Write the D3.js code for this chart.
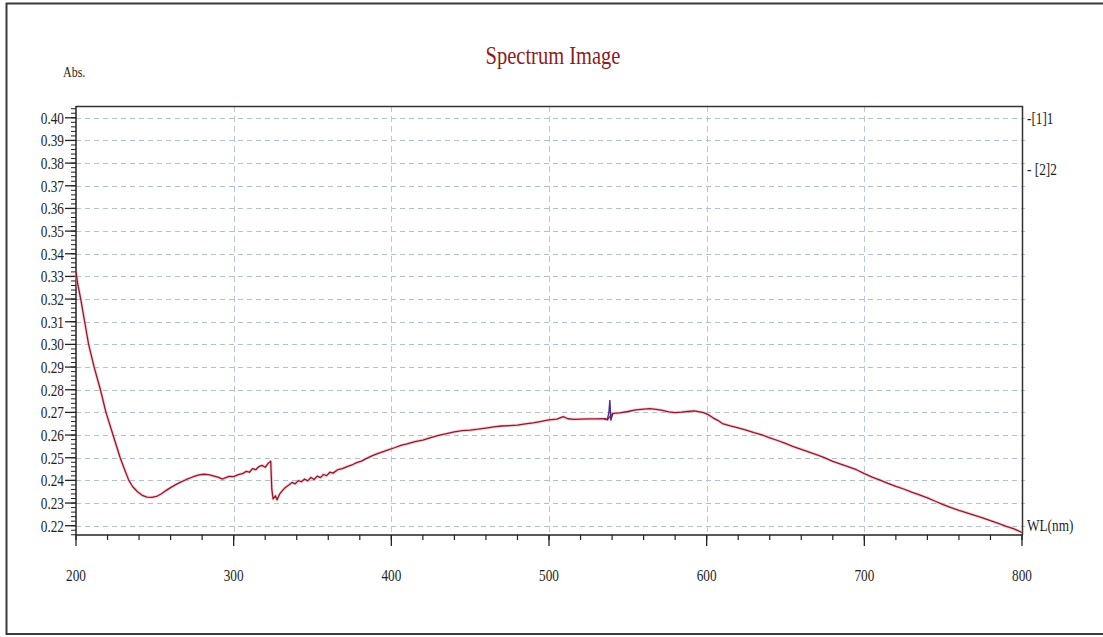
<!DOCTYPE html>
<html>
<head>
<meta charset="utf-8">
<script src="https://cdn.jsdelivr.net/npm/d3@7"></script>
<style>
  html, body { margin: 0; padding: 0; background: #fff; }
  svg { display: block; }
  text { font-family: "Liberation Serif", "Times New Roman", serif; fill: #1e1e1e; }
</style>
</head>
<body>
<svg id="chart" width="1103" height="637"></svg>
<script>
// Absorbance spectrum, series [1]1
const wavelength = [
  200, 201, 203, 205.5, 208, 211.5, 215.5, 219, 223.5, 228, 231, 233.5, 236, 239, 242, 245, 248, 251, 254, 257,
  260, 263, 266, 270, 274, 278, 281, 284, 287, 290, 293, 295, 297, 300, 303, 306, 308, 310, 312, 314,
  316, 318, 320, 322, 323.5, 324.2, 325, 326.5, 327.5, 329, 331, 333, 335, 337, 339, 341, 343, 345, 347, 349,
  351, 353, 355, 357, 359, 361, 363, 366, 369, 372, 375, 378, 381, 384, 387, 390, 394, 398, 402, 406,
  410, 415, 420, 425, 430, 435, 440, 445, 450, 455, 460, 465, 470, 475, 480, 485, 490, 495, 500, 505,
  509, 512, 516, 520, 525, 530, 535, 537, 540.5, 545, 550, 555, 560, 564, 568, 572, 576, 580, 584, 588,
  592, 595, 598, 601, 604, 607, 610, 615, 620, 625, 630, 635, 640, 645, 650, 655, 660, 665, 670, 675,
  680, 685, 690, 695, 700, 705, 710, 715, 720, 725, 730, 735, 740, 745, 750, 755, 760, 765, 770, 775,
  780, 785, 790, 795, 800
];
const absorbance = [
  0.3320, 0.3270, 0.3200, 0.3100, 0.3000, 0.2900, 0.2800, 0.2700, 0.2600, 0.2500, 0.2445, 0.2400, 0.2372, 0.2350, 0.2334, 0.2326, 0.2325, 0.2329, 0.2340, 0.2355,
  0.2368, 0.2380, 0.2391, 0.2404, 0.2415, 0.2424, 0.2427, 0.2425, 0.2420, 0.2414, 0.2406, 0.2412, 0.2418, 0.2417, 0.2425, 0.2431, 0.2440, 0.2436, 0.2452, 0.2447,
  0.2461, 0.2466, 0.2458, 0.2476, 0.2485, 0.2360, 0.2318, 0.2332, 0.2314, 0.2338, 0.2356, 0.2370, 0.2380, 0.2391, 0.2385, 0.2399, 0.2394, 0.2406, 0.2398, 0.2413,
  0.2404, 0.2419, 0.2412, 0.2426, 0.2421, 0.2436, 0.2432, 0.2447, 0.2452, 0.2461, 0.2468, 0.2478, 0.2485, 0.2496, 0.2506, 0.2515, 0.2525, 0.2535, 0.2544, 0.2554,
  0.2561, 0.2571, 0.2578, 0.2589, 0.2599, 0.2606, 0.2614, 0.2620, 0.2622, 0.2626, 0.2631, 0.2636, 0.2640, 0.2642, 0.2644, 0.2649, 0.2654, 0.2660, 0.2667, 0.2670,
  0.2681, 0.2672, 0.2669, 0.2670, 0.2671, 0.2671, 0.2672, 0.2668, 0.2696, 0.2698, 0.2704, 0.2711, 0.2714, 0.2717, 0.2713, 0.2709, 0.2702, 0.2699, 0.2701, 0.2704,
  0.2707, 0.2703, 0.2699, 0.2690, 0.2676, 0.2665, 0.2651, 0.2641, 0.2632, 0.2622, 0.2611, 0.2601, 0.2588, 0.2576, 0.2563, 0.2549, 0.2537, 0.2525, 0.2513, 0.2499,
  0.2484, 0.2472, 0.2460, 0.2447, 0.2430, 0.2414, 0.2401, 0.2387, 0.2374, 0.2362, 0.2348, 0.2336, 0.2323, 0.2308, 0.2293, 0.2280, 0.2268, 0.2257, 0.2246, 0.2235,
  0.2222, 0.2210, 0.2197, 0.2186, 0.2170
];

// Series [2]2 only departs from [1]1 around the 538 nm glitch
const wavelength2 = [535, 537, 538, 538.6, 539.2, 540.5];
const absorbance2 = [0.2672, 0.2668, 0.2700, 0.2755, 0.2664, 0.2696];

const xTicks = [200, 300, 400, 500, 600, 700, 800];
const xTickLabels = ["200", "300", "400", "500", "600", "700", "800"];
const yTicks = d3.range(22, 41).map(v => v / 100);
const yTickLabels = yTicks.map(v => v.toFixed(2));
const legendLabels = ["-[1]1", "- [2]2"];

const svg = d3.select("#chart");
const plot = { left: 76, right: 1022, top: 106, bottom: 535 };

const x = d3.scaleLinear().domain([200, 800]).range([plot.left, plot.right]);
const y = d3.scaleLinear().domain([0.2159, 0.4052]).range([plot.bottom, plot.top]);

const SX = 0.78; // narrow serif look
function label(g, tx, ty, str, opts = {}) {
  const t = g.append("text")
    .attr("transform", `translate(${tx},${ty}) scale(${opts.sx || SX},1)`)
    .attr("text-anchor", opts.anchor || "start")
    .attr("dy", opts.dy || "0.35em")
    .style("font-size", (opts.size || 17) + "px")
    .text(str);
  if (opts.fill) t.style("fill", opts.fill);
  return t;
}

// outer frame
svg.append("rect")
  .attr("x", 6.5).attr("y", 3.5).attr("width", 1100).attr("height", 630.5)
  .attr("fill", "none").attr("stroke", "#3a3a3a").attr("stroke-width", 2);

// title and axis captions
label(svg, 553, 55, "Spectrum Image", { anchor: "middle", size: 25, sx: 0.82, fill: "#8b1c24" });
label(svg, 63, 72, "Abs.", { size: 15, sx: 0.8 });
label(svg, 1027, 525, "WL(nm)", { size: 17 });

// grid
const grid = svg.append("g");
grid.selectAll("line.h").data(yTicks).join("line")
  .attr("x1", plot.left).attr("x2", plot.right + 3)
  .attr("y1", d => Math.round(y(d)) + 0.5).attr("y2", d => Math.round(y(d)) + 0.5)
  .attr("stroke", "#b0c0d0").attr("stroke-dasharray", "5,4").attr("stroke-width", 1);
grid.selectAll("line.v").data(xTicks.slice(1, -1)).join("line")
  .attr("y1", plot.top).attr("y2", plot.bottom)
  .attr("x1", d => Math.round(x(d)) + 0.5).attr("x2", d => Math.round(x(d)) + 0.5)
  .attr("stroke", "#b8c8d8").attr("stroke-dasharray", "6,4").attr("stroke-width", 1);

// plot frame (top and right)
svg.append("path")
  .attr("d", `M${plot.left},${plot.top + 0.5}H${plot.right + 0.5}V${plot.bottom}`)
  .attr("fill", "none").attr("stroke", "#333").attr("stroke-width", 1.5);

// left axis with minor ticks
const yAxis = svg.append("g").attr("transform", `translate(${plot.left},0)`);
yAxis.append("line").attr("x1", 0).attr("x2", 0).attr("y1", plot.top).attr("y2", plot.bottom)
  .attr("stroke", "#222").attr("stroke-width", 1.5);
const yMinor = d3.range(108, 203).map(v => v / 500);
yAxis.selectAll("line.minor").data(yMinor).join("line")
  .attr("x1", -5).attr("x2", 0)
  .attr("y1", d => y(d)).attr("y2", d => y(d))
  .attr("stroke", "#222").attr("stroke-width", 1);
yAxis.selectAll("line.major").data(yTicks).join("line")
  .attr("x1", -11).attr("x2", 0)
  .attr("y1", d => y(d)).attr("y2", d => y(d))
  .attr("stroke", "#222").attr("stroke-width", 1.3);
yTicks.forEach((v, i) => label(yAxis, -12, y(v), yTickLabels[i], { anchor: "end", size: 17 }));

// bottom axis with minor ticks
const xAxis = svg.append("g").attr("transform", `translate(0,${plot.bottom})`);
xAxis.append("line").attr("x1", plot.left).attr("x2", plot.right + 0.5).attr("y1", 0).attr("y2", 0)
  .attr("stroke", "#222").attr("stroke-width", 1.5);
const xMinor = d3.range(200, 801, 20);
xAxis.selectAll("line.minor").data(xMinor).join("line")
  .attr("x1", d => x(d)).attr("x2", d => x(d)).attr("y1", 0).attr("y2", 5)
  .attr("stroke", "#222").attr("stroke-width", 1.2);
xAxis.selectAll("line.major").data(xTicks).join("line")
  .attr("x1", d => x(d)).attr("x2", d => x(d)).attr("y1", 0).attr("y2", 11)
  .attr("stroke", "#222").attr("stroke-width", 1.3);
xTicks.forEach((v, i) => label(xAxis, x(v), 40, xTickLabels[i], { anchor: "middle", size: 17 }));

// legend at the right edge
label(svg, 1027, y(0.40), legendLabels[0], { size: 17 });
label(svg, 1027, 169, legendLabels[1], { size: 17 });

// spectrum lines
const pts = wavelength.map((w, i) => [w, absorbance[i]]);
const pts2 = wavelength2.map((w, i) => [w, absorbance2[i]]);
const line = d3.line().x(d => x(d[0])).y(d => y(d[1]));

svg.append("path").datum(pts).attr("d", line)
  .attr("fill", "none").attr("stroke", "#f2a7b0").attr("stroke-width", 3.2).attr("opacity", 0.5)
  .attr("stroke-linejoin", "round");
svg.append("path").datum(pts2).attr("d", line)
  .attr("fill", "none").attr("stroke", "#4a2f8f").attr("stroke-width", 1.4);
svg.append("path").datum(pts).attr("d", line)
  .attr("fill", "none").attr("stroke", "#8e1a2e").attr("stroke-width", 1.3)
  .attr("stroke-linejoin", "round");
</script>
</body>
</html>
